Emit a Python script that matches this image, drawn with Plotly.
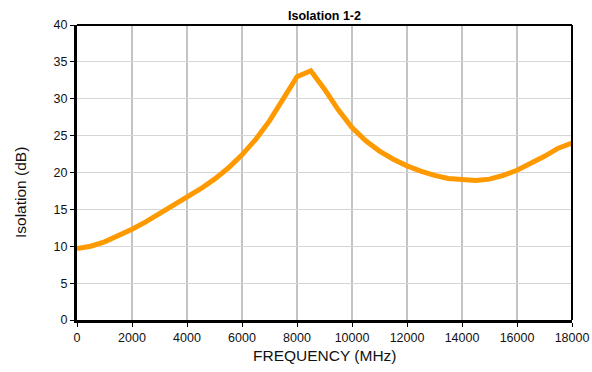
import plotly.graph_objects as go

freq_mhz = [0, 250, 500, 1000, 1500, 2000, 2500, 3000, 3500, 4000, 4500, 5000, 5500,
            6000, 6500, 7000, 7500, 8000, 8500, 9000, 9500, 10000, 10500, 11000,
            11500, 12000, 12500, 13000, 13500, 14000, 14500, 15000, 15500, 16000,
            16500, 17000, 17500, 18000]
isolation_db = [9.7, 9.8, 10.0, 10.6, 11.4, 12.3, 13.3, 14.4, 15.5, 16.6, 17.8, 19.1, 20.6,
                22.4, 24.5, 27.0, 29.9, 33.0, 33.8, 31.3, 28.5, 26.1, 24.3, 22.9,
                21.8, 20.9, 20.2, 19.6, 19.2, 19.0, 18.9, 19.1, 19.6, 20.3,
                21.2, 22.2, 23.3, 24.0]

x_ticks = list(range(0, 18001, 2000))
y_ticks = list(range(0, 41, 5))

W, H = 592, 372
L, R, T, B = 77, 20, 25, 52
PW, PH = W - L - R, H - T - B

fig = go.Figure()
fig.add_trace(go.Scatter(x=freq_mhz, y=isolation_db, mode="lines",
                         line=dict(color="#FF9900", width=5), hoverinfo="skip"))

font = "Liberation Sans, Arial, sans-serif"
fig.update_layout(
    width=W, height=H,
    margin=dict(l=L, r=R, t=T, b=B, autoexpand=False),
    paper_bgcolor="white", plot_bgcolor="white",
    showlegend=False,
    font=dict(family=font, color="#111", size=12.5),
    title=dict(text="<b>Isolation 1-2</b>", font=dict(size=12.5, color="#000", family=font),
               x=(L + PW / 2) / W, xanchor="center", y=1 - 20 / H, yanchor="bottom"),
)
fig.update_xaxes(range=[0, 18000], tickvals=x_ticks, ticktext=[str(v) for v in x_ticks],
                 automargin=False,
                 showgrid=True, gridcolor="#c4c4c4", gridwidth=2,
                 showline=True, linecolor="black", linewidth=3,
                 ticks="outside", ticklen=4, tickcolor="black", tickwidth=1,
                 zeroline=False, tickfont=dict(size=12.5))
fig.update_yaxes(range=[0, 40], tickvals=y_ticks, ticktext=[str(v) for v in y_ticks],
                 automargin=False,
                 showgrid=True, gridcolor="#d6d6d6", gridwidth=1,
                 showline=True, linecolor="black", linewidth=3,
                 ticks="outside", ticklen=4, tickcolor="black", tickwidth=1,
                 zeroline=False, tickfont=dict(size=12.5))
# top and right frame
fig.add_shape(type="line", xref="x domain", yref="y domain", x0=0, x1=1, y0=1, y1=1,
              line=dict(color="black", width=2))
fig.add_shape(type="line", xref="x domain", yref="y domain", x0=1, x1=1, y0=0, y1=1,
              line=dict(color="black", width=2))
# axis titles
fig.add_annotation(text="FREQUENCY (MHz)", xref="paper", yref="paper",
                   x=0.5, y=(H - B - 355) / PH, xanchor="center", yanchor="middle",
                   showarrow=False, font=dict(size=15.5, color="#111", family=font))
fig.add_annotation(text="Isolation (dB)", textangle=-90, xref="paper", yref="paper",
                   x=(20 - L) / PW, y=(H - B - 193) / PH,
                   xanchor="center", yanchor="middle", showarrow=False,
                   font=dict(size=15.5, color="#111", family=font))

fig.write_html("out.html", config={"displayModeBar": False},
               post_script="document.body.style.margin='0';document.body.style.overflow='hidden';")
